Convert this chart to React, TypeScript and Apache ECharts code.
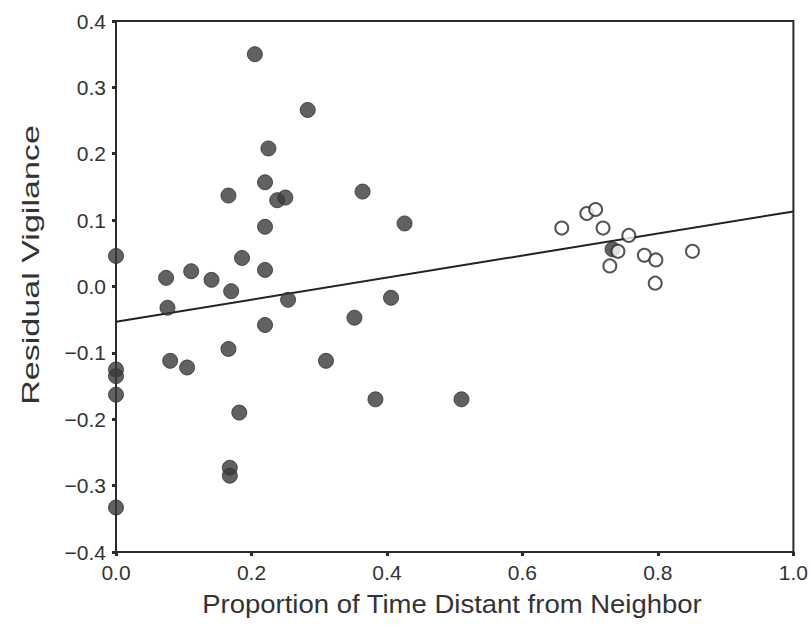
import React, { useEffect, useRef } from "react";
import * as echarts from "echarts";

// Filled circles (group 1)
const filledX = [0.205, 0.283, 0.225, 0.220, 0.166, 0.238, 0.250, 0.220, 0.364, 0.426, 0.000, 0.186, 0.220, 0.111, 0.074, 0.141, 0.170, 0.076, 0.254, 0.406, 0.220, 0.352, 0.166, 0.080, 0.105, 0.310, 0.000, 0.000, 0.000, 0.182, 0.383, 0.510, 0.168, 0.168, 0.000, 0.733];
const filledY = [0.350, 0.266, 0.208, 0.157, 0.137, 0.130, 0.134, 0.090, 0.143, 0.095, 0.046, 0.043, 0.025, 0.023, 0.013, 0.010, -0.007, -0.032, -0.020, -0.017, -0.058, -0.047, -0.094, -0.112, -0.122, -0.112, -0.125, -0.135, -0.163, -0.190, -0.170, -0.170, -0.273, -0.285, -0.333, 0.056];

// Open circles (group 2)
const openX = [0.658, 0.695, 0.708, 0.719, 0.757, 0.741, 0.729, 0.780, 0.797, 0.796, 0.851];
const openY = [0.088, 0.110, 0.116, 0.088, 0.077, 0.053, 0.031, 0.047, 0.040, 0.005, 0.053];

// Fitted regression line
const fitX = [0, 1];
const fitY = [-0.053, 0.113];

const xTitle = "Proportion of Time Distant from Neighbor";
const yTitle = "Residual Vigilance";

const FONT = "'Liberation Sans', Arial, Helvetica, sans-serif";
const INK = "#2b2b2b";

const zip = (xs: number[], ys: number[]) => xs.map((x, i) => [x, ys[i]]);
const fmt = (v: number) => {
  const s = Math.abs(v) < 1e-9 ? "0.0" : v.toFixed(1);
  return s.replace("-", "\u2212");
};

export default function App() {
  const ref = useRef<HTMLDivElement>(null);
  useEffect(() => {
    if (!ref.current) return;
    const chart = echarts.init(ref.current, undefined, { renderer: "svg" });
    chart.setOption({
      animation: false,
      backgroundColor: "#ffffff",
      grid: {
        left: 116,
        right: 17,
        top: 21,
        bottom: 75,
        show: true,
        borderColor: INK,
        borderWidth: 2,
        backgroundColor: "transparent",
      },
      xAxis: {
        type: "value",
        min: 0,
        max: 1,
        interval: 0.2,
        axisLine: { onZero: false, lineStyle: { color: INK, width: 2 } },
        axisTick: { show: true, length: 4, lineStyle: { color: INK, width: 3 } },
        splitLine: { show: false },
        axisLabel: {
          formatter: fmt,
          color: "#333",
          fontSize: 21,
          fontFamily: FONT,
          margin: 10,
        },
      },
      yAxis: {
        type: "value",
        min: -0.4,
        max: 0.4,
        interval: 0.1,
        axisLine: { onZero: false, lineStyle: { color: INK, width: 2 } },
        axisTick: { show: true, length: 4, lineStyle: { color: INK, width: 3 } },
        splitLine: { show: false },
        axisLabel: {
          formatter: fmt,
          color: "#333",
          fontSize: 21,
          fontFamily: FONT,
          margin: 10,
        },
      },
      graphic: [
        {
          type: "text",
          x: 452,
          y: 604,
          scaleX: 1.1,
          style: {
            text: xTitle,
            fill: "#333",
            fontSize: 25,
            fontFamily: FONT,
            align: "center",
            verticalAlign: "middle",
          },
        },
        {
          type: "text",
          x: 30,
          y: 265,
          rotation: Math.PI / 2,
          scaleX: 1.42,
          style: {
            text: yTitle,
            fill: "#333",
            fontSize: 24,
            fontFamily: FONT,
            align: "center",
            verticalAlign: "middle",
          },
        },
      ],
      series: [
        {
          type: "line",
          data: zip(fitX, fitY),
          showSymbol: false,
          symbol: "none",
          lineStyle: { color: "#222", width: 2 },
          z: 1,
        },
        {
          type: "scatter",
          data: zip(filledX, filledY),
          symbol: "circle",
          symbolSize: 15,
          itemStyle: { color: "#3a3a3a", borderColor: "#303030", borderWidth: 1 },
          z: 2,
        },
        {
          type: "scatter",
          data: zip(openX, openY),
          symbol: "circle",
          symbolSize: 13,
          itemStyle: { color: "#ffffff", borderColor: "#2b2b2b", borderWidth: 2 },
          z: 3,
        },
      ],
    });
    return () => chart.dispose();
  }, []);
  return (
    <div
      ref={ref}
      style={{ position: "absolute", left: 0, top: 0, width: 811, height: 627 }}
    />
  );
}
